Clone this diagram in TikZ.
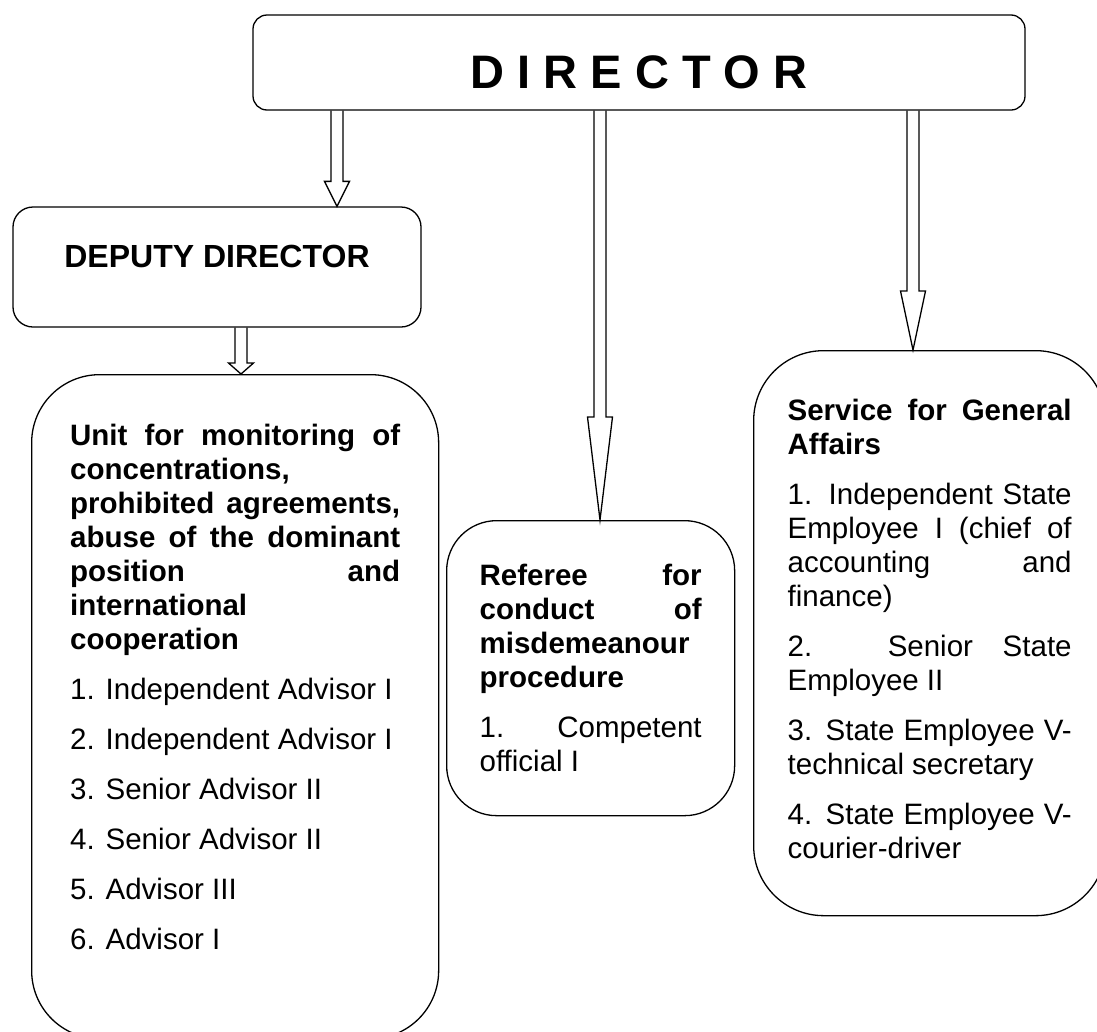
\documentclass[tikz,border=0pt]{standalone}
\usepackage{fontspec}
\setmainfont{Liberation Sans}
\usetikzlibrary{calc,positioning}

\tikzset{
  box/.style={draw,line width=1.3pt,inner sep=0pt},
  textbox/.style={box,anchor=north west,align=justify,inner ysep=0pt,
    font=\fontsize{29.5}{34}\selectfont},
  hollow/.style={draw,line width=1.3pt,line join=miter,
    to path={let \p1=(\tikztostart),\p2=(\tikztotarget) in
      (\x1-6pt,\y1) -- (\x1-6pt,\y2+#1) -- (\x1-12.5pt,\y2+#1) -- (\x2,\y2)
      -- (\x1+12.5pt,\y2+#1) -- (\x1+6pt,\y2+#1) -- (\x1+6pt,\y1)}}
}
\newcommand{\nextpar}{\par\vspace{16pt}}

\begin{document}
\begin{tikzpicture}[x=1pt,y=-1pt]
\useasboundingbox (0,0) rectangle (1097,1031);

\node[box,rounded corners=14pt,minimum width=772pt,minimum height=95pt,
  text height=51pt,text depth=0pt,font=\fontsize{47}{50}\selectfont\bfseries]
  (dir) at (639,62.5) {D I R E C T O R};

\node[box,rounded corners=20pt,minimum width=408pt,minimum height=120pt,
  text height=10pt,text depth=10pt,font=\fontsize{32}{34}\selectfont\bfseries]
  (dep) at (217,267) {DEPUTY DIRECTOR};

\node[textbox,rounded corners=68pt,inner xsep=38.5pt,text width=330pt,
  text height=71pt,text depth=593pt] (unit) at (31,374)
  {{\bfseries Unit for monitoring of\linebreak concentrations,\linebreak
   prohibited agreements,\linebreak abuse of the dominant\linebreak
   position and\linebreak international\linebreak cooperation}
   \nextpar 1. Independent Advisor I
   \nextpar 2. Independent Advisor I
   \nextpar 3. Senior Advisor II
   \nextpar 4. Senior Advisor II
   \nextpar 5. Advisor III
   \nextpar 6. Advisor I};

\node[textbox,rounded corners=50pt,inner xsep=33pt,text width=222pt,
  text height=65pt,text depth=230pt] (ref) at (446,520)
  {{\bfseries Referee for\linebreak conduct of\linebreak
   misdemeanour\linebreak procedure}
   \nextpar 1. Competent\linebreak official I};

\node[textbox,rounded corners=70pt,inner xsep=34pt,text width=284pt,
  text height=70pt,text depth=495pt] (gen) at (753,350)
  {{\bfseries Service for General\linebreak Affairs}
   \nextpar 1. Independent State\linebreak Employee I (chief of\linebreak
   accounting and\linebreak finance)
   \nextpar 2. Senior State\linebreak Employee II
   \nextpar 3. State Employee V-\linebreak technical secretary
   \nextpar 4. State Employee V-\linebreak courier-driver};

\coordinate (c1) at (337,0);
\coordinate (c2) at (600,0);
\coordinate (c3) at (913,0);
\coordinate (c4) at (241,0);

\draw[hollow=25pt] (dir.south -| c1) to (dep.north -| c1);
\draw[hollow=103pt] (dir.south -| c2) to (ref.north -| c2);
\draw[hollow=59pt] (dir.south -| c3) to (gen.north -| c3);
\draw[hollow=11pt] (dep.south -| c4) to (unit.north -| c4);
\end{tikzpicture}
\end{document}
